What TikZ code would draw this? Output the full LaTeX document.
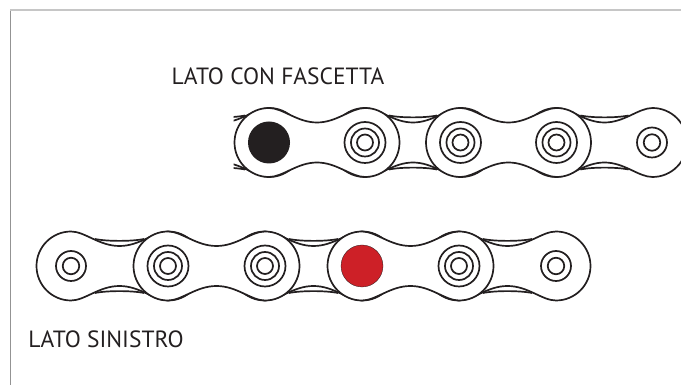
\documentclass[tikz,border=0pt]{standalone}
\usepackage{fontspec}
\setmainfont{PT Sans}
\definecolor{chain}{RGB}{35,31,32}
\definecolor{pinred}{RGB}{205,32,39}
\tikzset{
  link/.style={draw=chain,line width=1.7pt,fill=white},
  ring/.style={circle,draw=chain,line width=1.7pt,inner sep=0pt,minimum size=#1},
  label/.style={text=chain,inner sep=0pt,font=\fontsize{23.5}{25}\selectfont}
}
\newcommand{\innerplate}[1]{
  \draw[link] (0,34.5) .. controls (14,34.5) and (28,20) .. (#1/2,20)
    .. controls (#1-28,20) and (#1-14,34.5) .. (#1,34.5) arc (90:-90:34.5)
    .. controls (#1-14,-34.5) and (#1-28,-20) .. (#1/2,-20)
    .. controls (28,-20) and (14,-34.5) .. (0,-34.5) arc (270:90:34.5) -- cycle;
}
\newcommand{\backplate}[1]{
  \innerplate{#1}
  \draw[link,fill=none] (24,27) .. controls (36,24.5) and (#1-36,24.5) .. (#1-24,27);
  \draw[link,fill=none] (24,-27) .. controls (36,-24.5) and (#1-36,-24.5) .. (#1-24,-27);
}

\begin{document}
\begin{tikzpicture}[x=1pt,y=1pt]
  \useasboundingbox (0,0) rectangle (681,388);
  \draw[gray!85,line width=1pt] (10.5,3) -- (10.5,378);
  \draw[gray!45,line width=2pt] (10,378) -- (681,378);

  \foreach \name/\x in {t0/173,t1/269,t2/365,t3/460.5,t4/556.5,t5/652}
    \coordinate (\name) at (\x,245.5);
  \foreach \name/\x in {b1/71,b2/168,b3/265,b4/362,b5/459,b6/556}
    \coordinate (\name) at (\x,122);

  % side with the clip
  \begin{scope}
    \clip (233.5,200) rectangle (681,290);
    \foreach \from in {t0,t2,t4} {
      \begin{scope}[shift={(\from)}] \backplate{96} \end{scope}
    }
    \foreach \from in {t1,t3} {
      \begin{scope}[shift={(\from)}] \innerplate{96} \end{scope}
    }
  \end{scope}

  % left side
  \foreach \from in {b1,b3,b5} {
    \begin{scope}[shift={(\from)}] \backplate{97} \end{scope}
  }
  \foreach \from in {b2,b4} {
    \begin{scope}[shift={(\from)}] \innerplate{97} \end{scope}
  }

  \node[circle,fill=chain,inner sep=0pt,minimum size=42pt] (pinblack) at (t1) {};
  \node[circle,fill=pinred,draw=chain,line width=.3pt,inner sep=0pt,minimum size=42pt] (pinred) at (b4) {};

  \foreach \at in {t2,t3,t4,b2,b3,b5} {
    \node[ring=41pt] (\at a) at (\at) {};
    \node[ring=28pt] (\at b) at (\at) {};
    \node[ring=16pt] (\at c) at (\at) {};
  }
  \foreach \at in {t5,b1,b6} {
    \node[ring=30pt] (\at a) at (\at) {};
    \node[ring=16.5pt] (\at b) at (\at) {};
  }

  \node[label] (top) at (278,312) {LATO CON FASCETTA};
  \node[label] (bottom) at (106,49) {LATO SINISTRO};
\end{tikzpicture}
\end{document}
